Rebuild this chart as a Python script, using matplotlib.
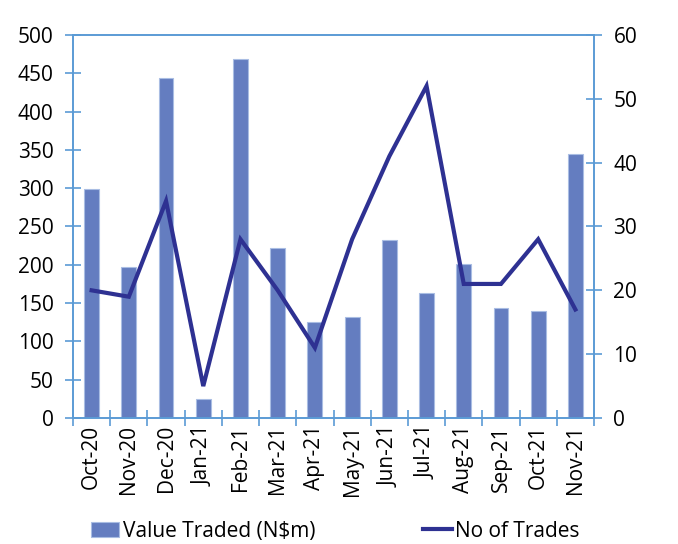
import numpy as np
import matplotlib
matplotlib.use("Agg")
import matplotlib.pyplot as plt
from matplotlib.ticker import FixedLocator

plt.rcParams['font.family'] = ['Open Sans', 'DejaVu Sans']

months = ["Oct-20", "Nov-20", "Dec-20", "Jan-21", "Feb-21", "Mar-21", "Apr-21",
          "May-21", "Jun-21", "Jul-21", "Aug-21", "Sep-21", "Oct-21", "Nov-21"]
value_traded = [299, 197, 444, 25, 469, 222, 125, 132, 232, 163, 201, 144, 140, 345]
no_of_trades = [20, 19, 34, 5, 28, 20, 11, 28, 41, 52, 21, 21, 28, 17]

bar_col = "#647dc0"
line_col = "#2e3192"
axis_col = "#5b9bd5"

fig = plt.figure(figsize=(6.78, 5.44), dpi=100)
ax = fig.add_axes([0.1077, 0.2316, 0.7684, 0.7041])
x = np.arange(len(months))
bars = ax.bar(x, value_traded, width=0.4, color=bar_col, edgecolor="#a9bde3",
              linewidth=0.8, label="Value Traded (N$m)", zorder=2)
ax.set_xlim(-0.5, len(months) - 0.5)
ax.set_ylim(0, 500)
ax.set_yticks(range(0, 501, 50))

ax2 = ax.twinx()
line, = ax2.plot(x, no_of_trades, color=line_col, linewidth=3, label="No of Trades",
                 solid_joinstyle="miter")
ax2.set_ylim(0, 60)
ax2.set_yticks(range(0, 61, 10))

for a in (ax, ax2):
    for s in a.spines.values():
        s.set_color(axis_col)
        s.set_linewidth(1.2)
    a.tick_params(axis="y", direction="inout", length=12, width=1.2, color=axis_col,
                  labelsize=15, pad=8)

ax.set_xticks(x)
ax.set_xticklabels(months, rotation=90, fontsize=15)
ax.tick_params(axis="x", length=0, pad=5)
ax.xaxis.set_minor_locator(FixedLocator(np.arange(-0.5, len(months), 1.0)))
ax.tick_params(axis="x", which="minor", direction="inout", length=12, width=1.2,
               color=axis_col)

fig.legend([bars, line], ["Value Traded (N$m)", "No of Trades"], loc="lower left",
           bbox_to_anchor=(0.107, -0.03), ncol=2, frameon=False, fontsize=15,
           handlelength=1.35, handletextpad=0.15, columnspacing=5.2)

fig.savefig("out.png", dpi=100)
